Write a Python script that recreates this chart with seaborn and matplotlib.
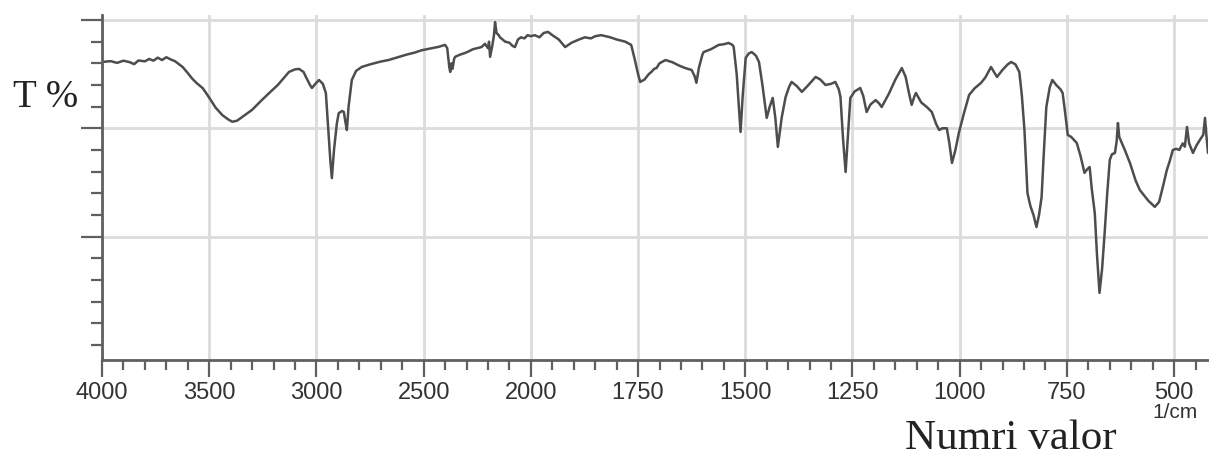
import numpy as np
import pandas as pd
import matplotlib
matplotlib.use("Agg")
import matplotlib.pyplot as plt
import seaborn as sns

# ---- data (wavenumber in 1/cm, transmittance in arbitrary %) ----
wavenumber = [
    4000, 3960, 3930, 3900, 3870, 3850, 3830, 3800, 3780, 3760, 3740, 3720, 3700, 3680, 3660,
    3640, 3624, 3600, 3580, 3559, 3530, 3499, 3470, 3438, 3410, 3392, 3370, 3346, 3300, 3260,
    3220, 3180, 3150, 3128, 3100, 3081, 3060, 3049, 3030, 3021, 3005, 2988, 2970, 2956, 2945,
    2935, 2928, 2918, 2905, 2896, 2880, 2872, 2865, 2858, 2850, 2835, 2815, 2789, 2750, 2700,
    2664, 2620, 2580, 2540, 2510, 2470, 2430, 2400, 2390, 2380, 2376, 2370, 2365, 2358, 2353,
    2330, 2306, 2290, 2270, 2250, 2230, 2214, 2200, 2195, 2190, 2180, 2172, 2167, 2160, 2150,
    2144, 2120, 2100, 2085, 2074, 2060, 2046, 2030, 2015, 2000, 1991, 1980, 1970, 1960, 1950,
    1935, 1920, 1905, 1890, 1874, 1860, 1850, 1836, 1815, 1800, 1780, 1766, 1758, 1750, 1745,
    1735, 1725, 1719, 1712, 1707, 1700, 1686, 1670, 1655, 1640, 1625, 1618, 1614, 1608, 1600,
    1597, 1580, 1562, 1550, 1539, 1530, 1527, 1520, 1515, 1511, 1506, 1499, 1492, 1485, 1475,
    1468, 1460, 1450, 1443, 1436, 1430, 1424, 1415, 1406, 1398, 1392, 1380, 1368, 1355, 1336,
    1325, 1313, 1300, 1290, 1282, 1278, 1272, 1266, 1261, 1255, 1245, 1232, 1225, 1217, 1208,
    1196, 1188, 1182, 1165, 1150, 1135, 1126, 1118, 1112, 1106, 1102, 1090, 1075, 1065, 1055,
    1048, 1040, 1030, 1024, 1018, 1010, 1002, 990, 978, 965, 950, 940, 927, 920, 913,
    900, 888, 880, 870, 861, 855, 849, 845, 842, 835, 828, 821, 815, 809, 804,
    798, 790, 784, 775, 765, 760, 754, 748, 740, 727, 718, 709, 703, 697, 692,
    685, 680, 674, 668, 662, 656, 650, 645, 638, 634, 631, 628, 622, 615, 603,
    590, 580, 570, 560, 545, 535, 525, 517, 510, 503, 495, 488, 480, 475, 470,
    465, 456, 448, 440, 432, 428, 424, 421,
]
transmittance = [
    80.6, 81.0, 80.2, 81.2, 80.5, 79.6, 81.3, 80.9, 82.0, 81.2, 82.6, 81.5, 82.8, 81.8, 81.0,
    79.5, 78.3, 75.5, 73.0, 70.9, 68.5, 64.0, 59.5, 56.0, 54.0, 53.0, 53.5, 55.2, 58.5, 62.5,
    66.3, 70.0, 73.5, 76.0, 77.2, 77.4, 76.0, 73.7, 70.0, 68.6, 70.5, 72.3, 70.5, 66.3, 50.0,
    35.0, 27.0, 40.0, 52.0, 57.0, 58.0, 57.5, 53.0, 49.2, 60.0, 72.3, 76.5, 78.3, 79.5, 80.8,
    81.5, 82.8, 84.0, 85.0, 86.0, 86.8, 87.6, 88.5, 87.0, 78.0, 76.0, 80.0, 77.5, 82.0, 83.0,
    84.0, 84.8, 85.5, 86.5, 87.0, 87.5, 89.0, 87.0, 90.0, 83.0, 88.0, 93.0, 99.0, 94.0, 93.0,
    92.0, 90.0, 89.5, 88.0, 87.5, 91.0, 92.0, 91.5, 93.0, 92.5, 93.0, 92.0, 94.0, 94.5, 93.0,
    91.0, 87.5, 89.5, 90.8, 92.0, 91.5, 92.5, 93.0, 92.0, 91.0, 90.0, 88.5, 82.0, 75.0, 71.4,
    72.5, 75.0, 76.0, 77.5, 77.8, 80.0, 81.5, 80.5, 79.0, 77.8, 76.9, 74.0, 71.0, 78.0, 84.0,
    85.2, 86.5, 88.5, 88.8, 89.4, 88.5, 87.5, 75.0, 60.0, 48.3, 65.0, 82.5, 84.5, 85.2, 83.5,
    80.6, 70.0, 54.8, 60.0, 64.0, 55.0, 41.4, 55.0, 64.4, 69.0, 71.4, 69.5, 66.8, 69.5, 73.7,
    72.5, 70.0, 70.5, 71.4, 68.0, 64.4, 45.0, 29.8, 45.0, 64.0, 67.0, 68.6, 65.0, 57.5, 61.0,
    63.0, 61.5, 59.8, 66.0, 72.5, 77.8, 73.7, 66.0, 60.8, 64.5, 66.3, 62.0, 59.5, 57.5, 52.0,
    49.2, 50.0, 50.0, 43.0, 34.0, 40.0, 47.8, 57.0, 65.4, 68.5, 71.0, 73.5, 78.3, 76.0, 73.7,
    77.0, 79.5, 80.6, 79.5, 76.0, 65.0, 49.2, 33.0, 20.1, 14.0, 10.0, 4.4, 10.0, 18.3, 38.0,
    59.8, 69.0, 72.3, 70.0, 68.0, 66.3, 57.0, 46.9, 46.0, 43.2, 37.0, 29.4, 31.0, 32.1, 22.0,
    10.8, -8.0, -26.0, -15.0, 1.7, 20.0, 35.4, 38.0, 38.6, 44.0, 52.4, 46.0, 43.2, 40.0, 34.0,
    26.0, 21.5, 19.0, 16.5, 13.7, 16.0, 24.0, 30.7, 35.0, 40.0, 40.5, 40.0, 43.0, 41.5, 50.6,
    43.0, 38.6, 42.0, 44.6, 47.0, 54.8, 45.0, 38.6,
]
major_ticks = [4000, 3500, 3000, 2500, 2000, 1750, 1500, 1250, 1000, 750, 500]
y_label = "T %"
x_label = "Numri valor"
x_unit = "1/cm"

df = pd.DataFrame({"wn": wavenumber, "T": transmittance})

sns.set_theme(style="white")
plt.rcParams["font.family"] = ["Liberation Sans", "DejaVu Sans"]

fig = plt.figure(figsize=(12.09, 4.59), dpi=100)
W, H = 1209, 459
ax = fig.add_axes([102 / W, 1 - 360 / H, (1208 - 102) / W, (360 - 15) / H])

def fwd(x):
    x = np.asarray(x, dtype=float)
    return np.where(x > 2000, 2000 + (x - 2000) / 2.0, x)

def inv(u):
    u = np.asarray(u, dtype=float)
    return np.where(u > 2000, 2000 + (u - 2000) * 2.0, u)

ax.set_xscale("function", functions=(fwd, inv))

sns.lineplot(data=df, x="wn", y="T", ax=ax, color="#4d4d4d", linewidth=1.8,
             sort=False, estimator=None)

ax.set_xlim(4000, 421)
ax.set_ylim(-57, 102.3)

minor_x = list(range(4000, 2000, -100)) + list(range(2000, 400, -50))
ax.set_xticks(major_ticks)
ax.set_xticks(minor_x, minor=True)
ax.set_xticklabels([str(t) for t in major_ticks])
ax.set_yticks([100, 50, 0])
ax.set_yticks(list(range(-50, 101, 10)), minor=True)
ax.set_yticklabels([])

ax.grid(True, which="major", color="#dcdcdc", linewidth=2.0)
ax.set_axisbelow(True)

for s in ["top", "right"]:
    ax.spines[s].set_visible(False)
for s in ["left", "bottom"]:
    ax.spines[s].set_color("#606060")
    ax.spines[s].set_linewidth(2.0)

ax.tick_params(axis="x", which="both", bottom=True, top=False)
ax.tick_params(axis="y", which="both", left=True, right=False)
ax.tick_params(axis="x", which="major", direction="out", length=12, width=1.6,
               color="#606060", labelsize=17, labelcolor="#333333", pad=4)
ax.tick_params(axis="x", which="minor", direction="out", length=7, width=1.6,
               color="#606060")
ax.tick_params(axis="y", which="major", direction="out", length=15, width=1.6,
               color="#606060")
ax.tick_params(axis="y", which="minor", direction="out", length=8, width=1.6,
               color="#606060")
ax.set_xlabel("")
ax.set_ylabel("")

fig.text(13 / W, 1 - 107 / H, y_label, fontsize=28, family="Liberation Serif",
         color="#222222", ha="left", va="baseline")
fig.text(905 / W, 1 - 449 / H, x_label, fontsize=31, family="Liberation Serif",
         color="#222222", ha="left", va="baseline")
fig.text(1175 / W, 1 - 413 / H, x_unit, fontsize=15, color="#333333",
         ha="center", va="center")

fig.savefig("out.png", dpi=100)
